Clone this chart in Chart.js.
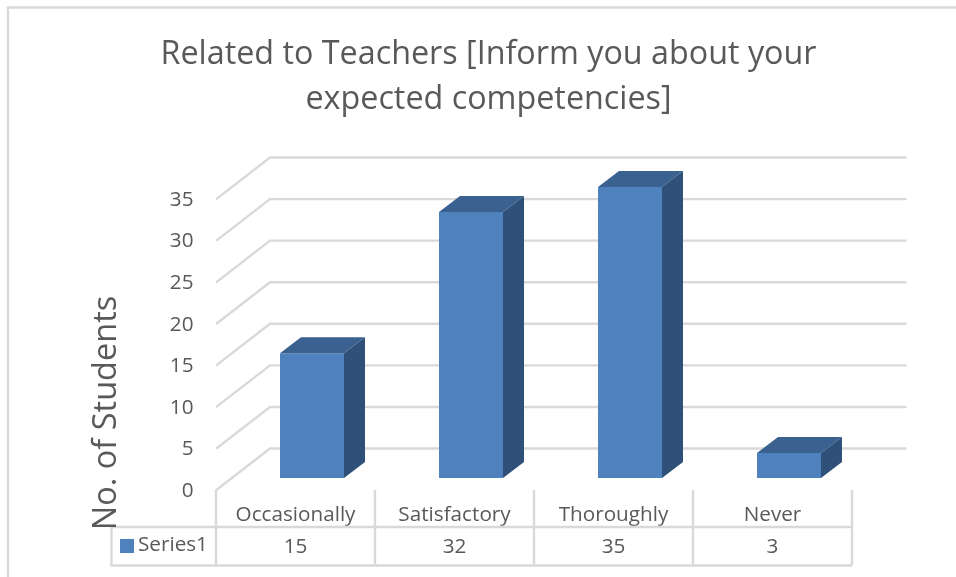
<!DOCTYPE html>
<html><head><meta charset="utf-8">
<style>html,body{margin:0;padding:0;background:#fff}#w{width:956px;height:577px}</style>
<script src="https://cdn.jsdelivr.net/npm/chart.js@4/dist/chart.umd.min.js"></script>
</head><body><div id="w"><canvas id="c" width="956" height="577"></canvas></div>
<script>
const categories = ['Occasionally', 'Satisfactory', 'Thoroughly', 'Never'];
const series1 = [15, 32, 35, 3];
const seriesName = 'Series1';
const titleLines = ['Related to Teachers [Inform you about your', 'expected competencies]'];
const yAxisTitle = 'No. of Students';
const FONT = '"Open Sans"';
const GRID = '#d9d9d9', TEXT = '#595959';

const DX = 21, DY = 16;          // bar depth
const threeD = {
  id: 'threeD',
  beforeDatasetsDraw(chart) {
    const c = chart.ctx, y = chart.scales.y, x = chart.scales.x;
    c.save();
    // outer frame
    c.strokeStyle = GRID; c.lineWidth = 2.4;
    c.beginPath(); c.moveTo(8, 577); c.lineTo(8, 7.5); c.lineTo(956, 7.5); c.stroke();
    // back wall gridlines and side-wall diagonals, from the value scale
    y.ticks.forEach(t => {
      const p = y.getPixelForValue(t.value);
      const back = p - 29.5, front = p + 12.3;
      c.beginPath();
      c.moveTo(216, front); c.lineTo(270, back); c.lineTo(906.5, back);
      c.stroke();
    });
    // data table rules
    const colW = x.getPixelForValue(1) - x.getPixelForValue(0);
    const leftX = x.getPixelForValue(0) - colW / 2 - 16.5;
    c.beginPath();
    for (let i = 0; i <= categories.length; i++) {
      const vx = leftX + i * colW;
      c.moveTo(vx, 490); c.lineTo(vx, 565);
    }
    const rightX = leftX + categories.length * colW;
    c.moveTo(111.5, 527); c.lineTo(rightX, 527);
    c.moveTo(111.5, 527); c.lineTo(111.5, 565.5); c.lineTo(rightX, 565.5);
    c.stroke();
    c.restore();
  },
  afterDatasetsDraw(chart) {
    const c = chart.ctx;
    chart.getDatasetMeta(0).data.forEach(b => {
      const l = b.x - b.width / 2, r = b.x + b.width / 2, t = b.y, bt = b.base;
      c.fillStyle = '#3a6190';
      c.beginPath(); c.moveTo(l, t); c.lineTo(l + DX, t - DY); c.lineTo(r + DX, t - DY); c.lineTo(r, t); c.closePath(); c.fill();
      c.fillStyle = '#2f5179';
      c.beginPath(); c.moveTo(r, t); c.lineTo(r + DX, t - DY); c.lineTo(r + DX, bt - DY); c.lineTo(r, bt); c.closePath(); c.fill();
    });
  },
  afterDraw(chart) {
    const c = chart.ctx;
    c.save();
    c.fillStyle = '#4f81bd'; c.fillRect(120, 539, 14, 14);
    c.fillStyle = TEXT;
    c.font = '20.7px ' + FONT; c.textAlign = 'left'; c.textBaseline = 'middle';
    c.fillText(seriesName, 138, 545);
    // axis title
    c.translate(107, 413); c.rotate(-Math.PI / 2);
    c.font = '32.5px ' + FONT; c.textAlign = 'center';
    c.fillText(yAxisTitle, 0, 0);
    c.restore();
  }
};

new Chart(document.getElementById('c'), {
  type: 'bar',
  data: { labels: categories, datasets: [{ label: seriesName, data: series1, backgroundColor: '#4f81bd',
    barPercentage: 0.4025, categoryPercentage: 1 }] },
  plugins: [threeD],
  options: {
    responsive: false, animation: false,
    layout: { padding: { left: 108.5, right: 87.5, top: 0, bottom: 0 } },
    plugins: {
      legend: { display: false }, tooltip: { enabled: false },
      title: { display: true, text: titleLines, color: TEXT, align: 'center',
        font: { family: FONT, size: 32.3, weight: 'normal', lineHeight: 1.42 },
        padding: { top: 31.5, bottom: 63.8 } }
    },
    scales: {
      x: {
        grid: { display: false, drawTicks: false }, border: { display: false },
        afterFit(s) { s.height = 99; },
        ticks: { color: TEXT, font: { family: FONT, size: 20.7, lineHeight: 1.546 }, padding: 20.8, labelOffset: -16.5,
          maxRotation: 0, autoSkip: false,
          callback(v, i) { return [categories[i], String(series1[i])]; } }
      },
      y: {
        min: 0, max: 35,
        grid: { display: false, drawTicks: false }, border: { display: false },
        afterFit(s) { s.width = 124; },
        ticks: { stepSize: 5, color: TEXT, font: { family: FONT, size: 20.7 }, padding: 39, labelOffset: 13 }
      }
    }
  }
});
</script></body></html>
